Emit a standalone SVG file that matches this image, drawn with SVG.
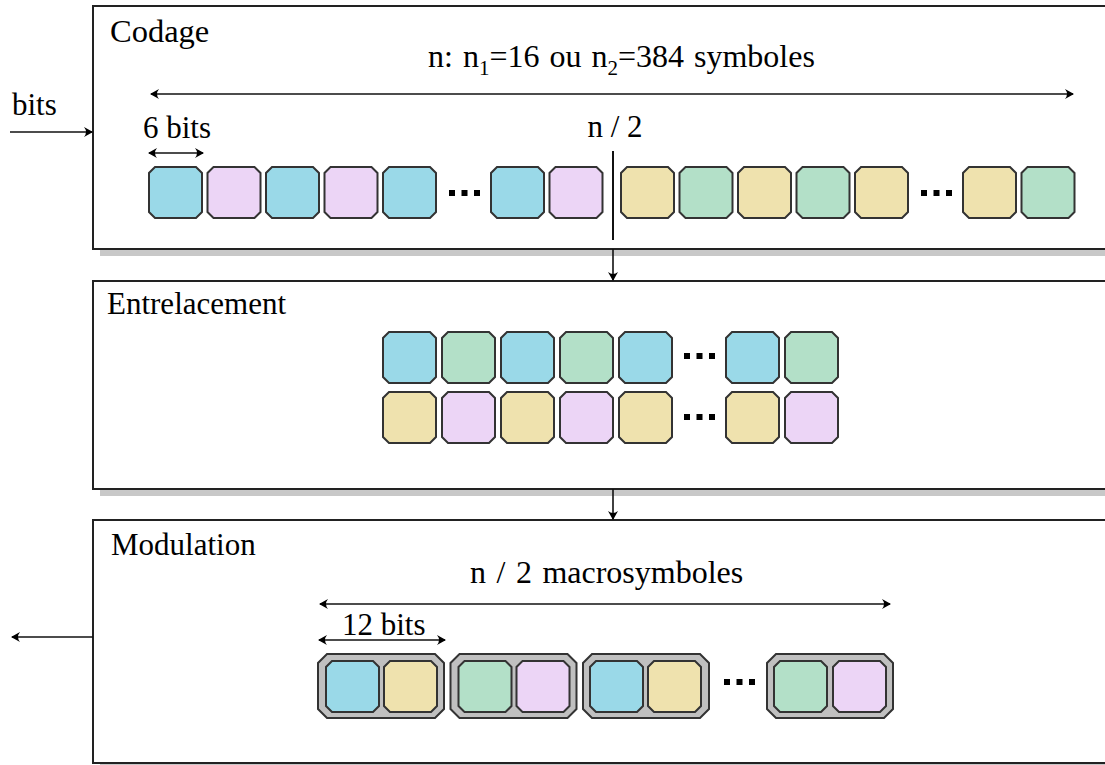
<svg xmlns="http://www.w3.org/2000/svg" width="1105" height="765" viewBox="0 0 1105 765" font-family="'Liberation Serif', 'Times New Roman', Times, 'DejaVu Serif', serif">
<style>
text{font-family:'Liberation Serif','Times New Roman',Times,'DejaVu Serif',serif;font-size:31px;fill:#000}
.box{fill:#fff;stroke:#222;stroke-width:2}
.shadow{fill:#c8c8c8}
.blue{fill:#9ad9e8;stroke:#333;stroke-width:2}
.pink{fill:#ecd5f6;stroke:#333;stroke-width:2}
.yellow{fill:#efe2ae;stroke:#333;stroke-width:2}
.green{fill:#b3e0c8;stroke:#333;stroke-width:2}
.grp{fill:#c0c0c0;stroke:#333;stroke-width:2}
.dot{fill:#000}
.line{stroke:#111;stroke-width:2;fill:none}
.dim{stroke:#111;stroke-width:1.6;fill:none;marker-start:url(#ah);marker-end:url(#ah)}
.arr{stroke:#111;stroke-width:1.6;fill:none;marker-end:url(#ah)}
</style>
<defs>
<marker id="ah" viewBox="-10 -6 12 12" markerWidth="12" markerHeight="12" markerUnits="userSpaceOnUse" refX="0" refY="0" orient="auto-start-reverse">
<path d="M1,0 L-8,-5 Q-4,0 -8,5 Z" fill="#000"/>
</marker>
<path id="sq" d="M6,0 H47 L53,6 V45 L47,51 H6 L0,45 V6 Z"/>
<path id="grp" d="M9,0 H117 L126,9 V55 L117,64 H9 L0,55 V9 Z"/>
</defs>

<g id="codage">
<rect class="shadow" x="100" y="13" width="1020" height="243"/>
<rect class="box" x="93" y="6" width="1020" height="243"/>
<text x="110" y="42" style="font-size:32.5px">Codage</text>
<text x="428" y="67" style="font-size:32px;word-spacing:2px">n: n<tspan font-size="21" dy="8">1</tspan><tspan dy="-8">=16 ou n</tspan><tspan font-size="21" dy="8">2</tspan><tspan dy="-8">=384 symboles</tspan></text>
<line class="dim" x1="151" y1="94" x2="1073" y2="94"/>
<text x="143" y="138">6 bits</text>
<line class="dim" x1="149" y1="153" x2="203" y2="153"/>
<text x="615" y="137" text-anchor="middle">n / 2</text>
<line class="line" x1="613" y1="151" x2="613" y2="240"/>
<use href="#sq" x="149" y="167" class="blue"/>
<use href="#sq" x="207.5" y="167" class="pink"/>
<use href="#sq" x="266" y="167" class="blue"/>
<use href="#sq" x="324.5" y="167" class="pink"/>
<use href="#sq" x="383" y="167" class="blue"/>
<rect class="dot" x="449" y="190" width="6" height="6"/>
<rect class="dot" x="461.5" y="190" width="6" height="6"/>
<rect class="dot" x="474" y="190" width="6" height="6"/>
<use href="#sq" x="491" y="167" class="blue"/>
<use href="#sq" x="549.5" y="167" class="pink"/>
<use href="#sq" x="621" y="167" class="yellow"/>
<use href="#sq" x="679.5" y="167" class="green"/>
<use href="#sq" x="738" y="167" class="yellow"/>
<use href="#sq" x="796.5" y="167" class="green"/>
<use href="#sq" x="855" y="167" class="yellow"/>
<rect class="dot" x="921" y="190" width="6" height="6"/>
<rect class="dot" x="933.5" y="190" width="6" height="6"/>
<rect class="dot" x="946" y="190" width="6" height="6"/>
<use href="#sq" x="963" y="167" class="yellow"/>
<use href="#sq" x="1021.5" y="167" class="green"/>
</g>

<g id="entrelacement">
<rect class="shadow" x="100" y="288" width="1020" height="208"/>
<rect class="box" x="93" y="281" width="1020" height="208"/>
<text x="107" y="314">Entrelacement</text>
<use href="#sq" x="383" y="332" class="blue"/>
<use href="#sq" x="442" y="332" class="green"/>
<use href="#sq" x="501" y="332" class="blue"/>
<use href="#sq" x="560" y="332" class="green"/>
<use href="#sq" x="619" y="332" class="blue"/>
<rect class="dot" x="684" y="353" width="6" height="6"/>
<rect class="dot" x="696.5" y="353" width="6" height="6"/>
<rect class="dot" x="709" y="353" width="6" height="6"/>
<use href="#sq" x="726" y="332" class="blue"/>
<use href="#sq" x="785" y="332" class="green"/>
<use href="#sq" x="383" y="392" class="yellow"/>
<use href="#sq" x="442" y="392" class="pink"/>
<use href="#sq" x="501" y="392" class="yellow"/>
<use href="#sq" x="560" y="392" class="pink"/>
<use href="#sq" x="619" y="392" class="yellow"/>
<rect class="dot" x="684" y="414" width="6" height="6"/>
<rect class="dot" x="696.5" y="414" width="6" height="6"/>
<rect class="dot" x="709" y="414" width="6" height="6"/>
<use href="#sq" x="726" y="392" class="yellow"/>
<use href="#sq" x="785" y="392" class="pink"/>
</g>

<g id="modulation">
<rect class="shadow" x="100" y="527" width="1020" height="243"/>
<rect class="box" x="93" y="520" width="1020" height="243"/>
<text x="111" y="555">Modulation</text>
<text x="470" y="583" style="font-size:32px;word-spacing:2.5px">n / 2 macrosymboles</text>
<line class="dim" x1="320" y1="604" x2="890" y2="604"/>
<text x="342" y="635">12 bits</text>
<line class="dim" x1="319" y1="640" x2="445" y2="640"/>
<use href="#grp" x="318" y="654" class="grp"/>
<use href="#sq" x="326" y="661" class="blue"/>
<use href="#sq" x="384" y="661" class="yellow"/>
<use href="#grp" x="450.5" y="654" class="grp"/>
<use href="#sq" x="458.5" y="661" class="green"/>
<use href="#sq" x="516.5" y="661" class="pink"/>
<use href="#grp" x="583" y="654" class="grp"/>
<use href="#sq" x="590" y="661" class="blue"/>
<use href="#sq" x="648" y="661" class="yellow"/>
<rect class="dot" x="724" y="679" width="6" height="6"/>
<rect class="dot" x="736.5" y="679" width="6" height="6"/>
<rect class="dot" x="749" y="679" width="6" height="6"/>
<use href="#grp" x="767" y="654" class="grp"/>
<use href="#sq" x="774" y="661" class="green"/>
<use href="#sq" x="833" y="661" class="pink"/>
</g>

<g id="connectors">
<text x="12" y="115">bits</text>
<line class="arr" x1="10" y1="132" x2="92" y2="132"/>
<line class="arr" x1="613" y1="249" x2="613" y2="280"/>
<line class="arr" x1="613" y1="489" x2="613" y2="519"/>
<line class="arr" x1="93" y1="637" x2="12" y2="637"/>
</g>
</svg>
